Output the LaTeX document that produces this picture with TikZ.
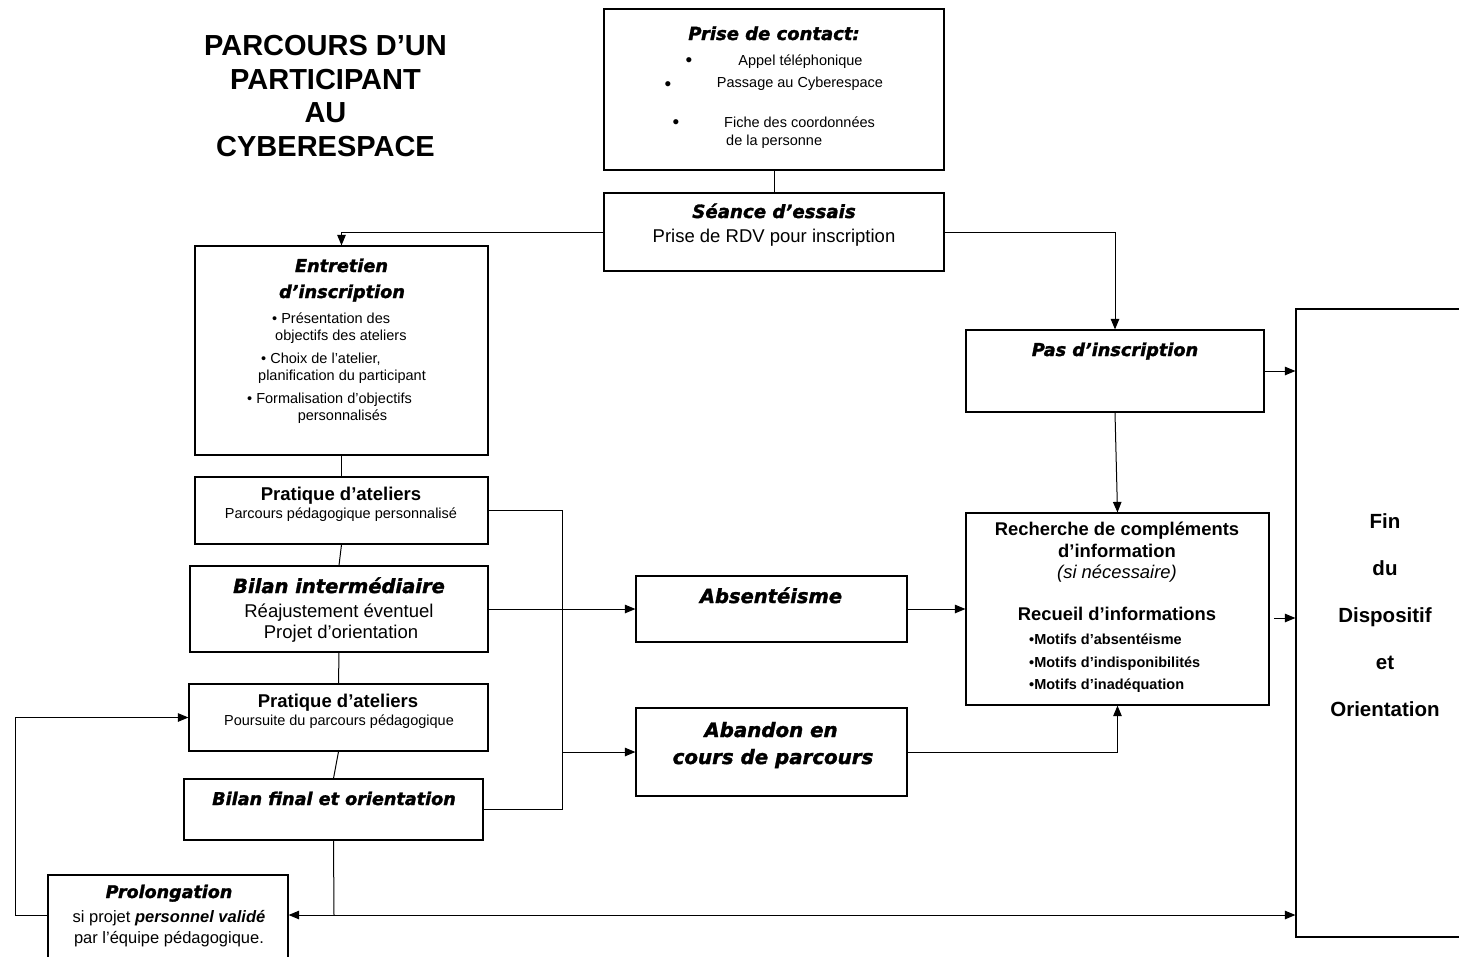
\documentclass[tikz,border=0pt]{standalone}
\usepackage{fontspec}
\setmainfont{Liberation Sans}
\newfontfamily\heavyfont{DejaVu Sans Bold Oblique}[FakeBold=1.6]
\usetikzlibrary{arrows.meta}
\newcommand{\fsz}[1]{\fontsize{#1}{#1}\selectfont}
\newcommand{\hv}{\heavyfont}
\begin{document}
\begin{tikzpicture}[x=1pt,y=-1pt,
  box/.style={draw, line width=1.2pt, inner sep=0pt},
  lbl/.style={anchor=base, inner sep=0pt},
  lblw/.style={anchor=base west, inner sep=0pt},
  bul/.style={anchor=base, inner sep=0pt, font=\fsz{19}},
  conn/.style={line width=1pt},
  arr/.style={conn, -{Triangle[length=10.5pt,width=8.5pt]}}]
\useasboundingbox (0,0) rectangle (1459,956);
\fill[white] (0,0) rectangle (1459,956);

% boxes
\node[box, minimum width=340pt, minimum height=161pt] (pc) at (774,89.5) {};
\node[box, minimum width=340pt, minimum height=78pt] (se) at (774,232) {};
\node[box, minimum width=293pt, minimum height=209pt] (en) at (341.5,350.5) {};
\node[box, minimum width=293pt, minimum height=67pt] (p1) at (341.5,510.5) {};
\node[box, minimum width=298pt, minimum height=86pt] (bi) at (339,609) {};
\node[box, minimum width=299pt, minimum height=67pt] (p2) at (338.5,717.5) {};
\node[box, minimum width=299pt, minimum height=61pt] (bf) at (333.5,809.5) {};
\node[box, minimum width=240pt, minimum height=90pt] (pr) at (168,920) {};
\node[box, minimum width=298pt, minimum height=82pt] (pas) at (1115,371) {};
\node[box, minimum width=303pt, minimum height=192pt] (rc) at (1117.5,609) {};
\node[box, minimum width=271pt, minimum height=66pt] (ab) at (771.5,609) {};
\node[box, minimum width=271pt, minimum height=88pt] (an) at (771.5,752) {};
\node[box, minimum width=174pt, minimum height=628pt] (fin) at (1383,623) {};

% title
\node[lbl, font=\bfseries\fsz{29}] (ti1) at (325.5,55) {PARCOURS D’UN};
\node[lbl, font=\bfseries\fsz{29}] (ti2) at (325.5,89) {PARTICIPANT};
\node[lbl, font=\bfseries\fsz{29}] (ti3) at (325.5,122) {AU};
\node[lbl, font=\bfseries\fsz{29}] (ti4) at (325.5,156) {CYBERESPACE};

% prise de contact
\node[lbl, font=\hv\fsz{18}] (pct) at (774,40) {Prise de contact:};
\node[bul] (b1) at (689,66) {•};
\node[bul] (b2) at (668,90) {•};
\node[bul] (b3) at (676,128) {•};
\node[lbl, font=\fsz{14.5}] (pc1) at (800.5,65) {Appel téléphonique};
\node[lbl, font=\fsz{14.5}] (pc2) at (800,87) {Passage au Cyberespace};
\node[lblw, font=\fsz{14.5}] (pc3) at (724,127) {Fiche des coordonnées};
\node[lblw, font=\fsz{14.5}] (pc4) at (726,145) {de la personne};

% seance
\node[lbl, font=\hv\fsz{18.2}] (set) at (774,218) {Séance d’essais};
\node[lbl, font=\fsz{18.5}] (se1) at (774,242) {Prise de RDV pour inscription};

% entretien
\node[lbl, font=\hv\fsz{17.7}] (ent1) at (341.5,272) {Entretien};
\node[lbl, font=\hv\fsz{17.7}] (ent2) at (342,298) {d’inscription};
\node[lblw, font=\fsz{14.5}] (en1) at (272,323) {• Présentation des};
\node[lblw, font=\fsz{14.5}] (en2) at (275,340) {objectifs des ateliers};
\node[lblw, font=\fsz{14.5}] (en3) at (261,363) {• Choix de l’atelier,};
\node[lblw, font=\fsz{14.5}] (en4) at (258,380) {planification du participant};
\node[lblw, font=\fsz{14.5}] (en5) at (247,403) {• Formalisation d’objectifs};
\node[lbl, font=\fsz{14.5}] (en6) at (342.5,420) {personnalisés};

% pratique 1
\node[lbl, font=\bfseries\fsz{18.5}] (p1t) at (341,500) {Pratique d’ateliers};
\node[lbl, font=\fsz{14.5}] (p1s) at (341,518) {Parcours pédagogique personnalisé};

% bilan intermediaire
\node[lbl, font=\hv\fsz{19.5}] (bit) at (339,593) {Bilan intermédiaire};
\node[lbl, font=\fsz{18.5}] (bi1) at (339,617) {Réajustement éventuel};
\node[lbl, font=\fsz{18.5}] (bi2) at (341,638) {Projet d’orientation};

% pratique 2
\node[lbl, font=\bfseries\fsz{18.5}] (p2t) at (338,707) {Pratique d’ateliers};
\node[lbl, font=\fsz{14.5}] (p2s) at (339,725) {Poursuite du parcours pédagogique};

% bilan final
\node[lbl, font=\hv\fsz{17.6}] (bft) at (334,805) {Bilan final et orientation};

% prolongation
\node[lbl, font=\hv\fsz{17.5}] (prt) at (169,898) {Prolongation};
\node[lbl, font=\fsz{16.5}] (pr1) at (169,922) {si projet \textbf{\textit{personnel validé}}};
\node[lbl, font=\fsz{16.5}] (pr2) at (169,943) {par l’équipe pédagogique.};

% pas d'inscription
\node[lbl, font=\hv\fsz{17.7}] (past) at (1115,356) {Pas d’inscription};

% recherche
\node[lbl, font=\bfseries\fsz{18.4}] (rc1) at (1117,535) {Recherche de compléments};
\node[lbl, font=\bfseries\fsz{18.4}] (rc2) at (1117,557) {d’information};
\node[lbl, font=\itshape\fsz{18.4}] (rc3) at (1117,578) {(si nécessaire)};
\node[lbl, font=\bfseries\fsz{18.4}] (rc4) at (1117,620) {Recueil d’informations};
\node[lblw, font=\bfseries\fsz{14.5}] (rc5) at (1029,644) {•Motifs d’absentéisme};
\node[lblw, font=\bfseries\fsz{14.5}] (rc6) at (1029,667) {•Motifs d’indisponibilités};
\node[lblw, font=\bfseries\fsz{14.5}] (rc7) at (1029,689) {•Motifs d’inadéquation};

% absenteisme / abandon
\node[lbl, font=\hv\fsz{19.5}] (abt) at (771,603) {Absentéisme};
\node[lbl, font=\hv\fsz{19.8}] (an1) at (771,737) {Abandon en};
\node[lbl, font=\hv\fsz{19.8}] (an2) at (773,764) {cours de parcours};

% fin
\node[lbl, font=\bfseries\fsz{20.5}] (f1) at (1385,528) {Fin};
\node[lbl, font=\bfseries\fsz{20.5}] (f2) at (1385,575) {du};
\node[lbl, font=\bfseries\fsz{20.5}] (f3) at (1385,622) {Dispositif};
\node[lbl, font=\bfseries\fsz{20.5}] (f4) at (1385,669) {et};
\node[lbl, font=\bfseries\fsz{20.5}] (f5) at (1385,716) {Orientation};

% helper coordinates
\coordinate (vx) at (562,0);
\coordinate (lft) at (15,0);
\coordinate (jn) at (334,915);
\coordinate (rcout) at (1274,618);

% connectors
\draw[conn] (pc.south) -- (se.north);
\draw[arr] (se.west) -| (en.north);
\draw[arr] (se.east) -| (pas.north);
\draw[arr] (pas.east) -- (fin.west |- pas.east);
\draw[arr] (pas.south) -- (rc.north);
\draw[conn] (en.south) -- (p1.north);
\draw[conn] (p1.south) -- (bi.north);
\draw[conn] (bi.south) -- (p2.north);
\draw[conn] (p2.south) -- (bf.north);
\draw[conn] (p1.east) -- (vx |- p1.east) -- (vx |- bf.east) -- (bf.east);
\draw[arr] (bi.east) -- (ab.west);
\draw[arr] (vx |- an.west) -- (an.west);
\draw[arr] (ab.east) -- (rc.west);
\draw[arr] (an.east) -| (rc.south);
\draw[arr] (rcout) -- (fin.west |- rcout);
\draw[conn] (bf.south) -- (jn);
\draw[arr] (jn) -- (pr.east |- jn);
\draw[arr] (jn) -- (fin.west |- jn);
\draw[arr] (pr.west |- jn) -- (lft |- jn) -- (lft |- p2.west) -- (p2.west);
\end{tikzpicture}
\end{document}
